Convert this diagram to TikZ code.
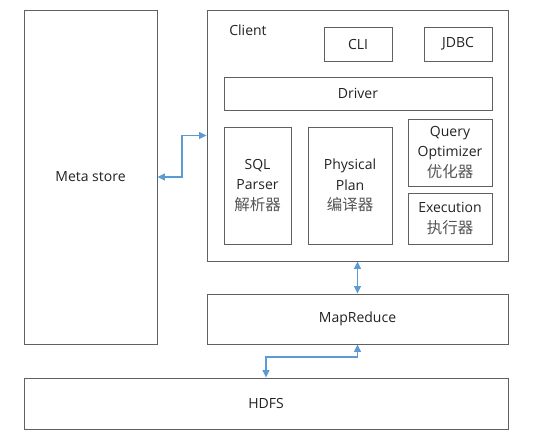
\documentclass[tikz,border=0pt]{standalone}
\usepackage{fontspec}
\setmainfont{Open Sans}
\newfontfamily\cjk{Noto Sans CJK SC}
\usetikzlibrary{arrows.meta}
\definecolor{boxgray}{HTML}{606060}
\definecolor{txt}{HTML}{222222}
\definecolor{cjkgray}{HTML}{555555}
\definecolor{arrblue}{HTML}{5B9BD5}
\tikzset{
  box/.style={draw=boxgray, line width=0.9pt, inner sep=0pt, text=txt, align=center,
    font=\fontsize{14}{20.5}\selectfont},
  lbl/.style={inner sep=0pt, text=txt, font=\fontsize{14}{20.5}\selectfont},
  conn/.style={draw=arrblue, line width=1.1pt, {Triangle[length=7.5pt,width=7pt]}-{Triangle[length=7.5pt,width=7pt]}},
}
\newcommand{\zh}[1]{{\cjk\fontsize{15.5}{20.5}\selectfont\color{cjkgray}#1}}
\begin{document}
\begin{tikzpicture}[x=1pt,y=-1pt]
\useasboundingbox (0,0) rectangle (533,445);
\node[box, minimum width=133pt, minimum height=334pt] (meta) at (90.5,177) {Meta store};
\node[box, minimum width=301pt, minimum height=251pt] (client) at (357.5,135.5) {};
\node[lbl] (clientlbl) at (248,30) {Client};
\node[box, minimum width=68pt, minimum height=34pt] (cli) at (358,44) {CLI};
\node[box, minimum width=68pt, minimum height=34pt] (jdbc) at (458,44) {JDBC};
\node[box, minimum width=268pt, minimum height=33pt] (driver) at (358,93.5) {Driver};
\node[box, minimum width=67pt, minimum height=117pt] (sql) at (257.5,185.5) {SQL\\Parser\\\zh{解析器}};
\node[box, minimum width=84pt, minimum height=117pt] (phys) at (350,185.5) {Physical\\Plan\\\zh{编译器}};
\node[box, minimum width=84pt, minimum height=67pt] (qo) at (450,152.5) {Query\\Optimizer\\\zh{优化器}};
\node[box, minimum width=84pt, minimum height=51pt] (exec) at (450,218.5) {Execution\\\zh{执行器}};
\node[box, minimum width=301pt, minimum height=50pt] (mr) at (357.5,319) {MapReduce};
\node[box, minimum width=484pt, minimum height=51pt] (hdfs) at (266,403.5) {HDFS};
\coordinate (m1) at (182,177);
\coordinate (m2) at (0,357);
\draw[conn] (meta.east) -- (m1) |- (client.west);
\draw[conn] (client.south) -- (mr.north);
\draw[conn] (mr.south) |- (hdfs.north |- m2) -- (hdfs.north);
\end{tikzpicture}
\end{document}
